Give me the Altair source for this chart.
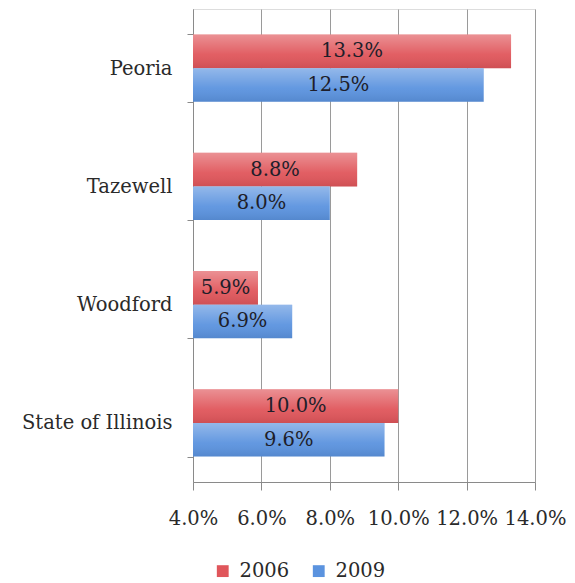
import altair as alt
import pandas as pd

categories = ["Peoria", "Tazewell", "Woodford", "State of Illinois"]
years = ["2006", "2009"]
v2006 = [13.3, 8.8, 5.9, 10.0]
v2009 = [12.5, 8.0, 6.9, 9.6]
x_ticks = [4, 6, 8, 10, 12, 14]
base_value = 4

rows = []
for c, a, b in zip(categories, v2006, v2009):
    rows.append({"cat": c, "year": "2006", "value": a, "base": base_value})
    rows.append({"cat": c, "year": "2009", "value": b, "base": base_value})
df = pd.DataFrame(rows)

FONT = "DejaVu Serif"

xscale = alt.Scale(domain=[4, 14], nice=False, zero=False)
yscale = alt.Scale(domain=categories, paddingInner=0.43, paddingOuter=0.215)
color_scale = alt.Scale(domain=years, range=["#e0565b", "#5b93df"])

base = alt.Chart(df).encode(
    y=alt.Y("cat:N", scale=yscale, sort=categories, title=None,
            axis=alt.Axis(labelFont=FONT, labelFontSize=19.5, labelColor="#2a2a2a",
                          labelPadding=15, tickSize=6, tickBand="extent",
                          domainColor="#8a8a8a", tickColor="#8a8a8a", labelLimit=200)),
    yOffset=alt.YOffset("year:N", sort=years),
)

bars = base.mark_bar(stroke=None).encode(
    x=alt.X("value:Q", scale=xscale, title=None,
            axis=alt.Axis(values=x_ticks, labelExpr="format(datum.value, '.1f') + '%'",
                          labelFont=FONT, labelFontSize=19.5, labelColor="#2a2a2a",
                          tickSize=8, labelPadding=19, grid=True, gridColor="#9a9a9a",
                          domainColor="#8a8a8a", tickColor="#8a8a8a", labelFlush=False)),
    x2="base:Q",
    color=alt.Color("year:N", scale=color_scale, title=None,
                    legend=alt.Legend(orient="none", legendX=20, legendY=552, direction="horizontal",
                                      symbolType="square", symbolSize=140, symbolStrokeWidth=0,
                                      labelFont=FONT, labelFontSize=19.5, labelColor="#2a2a2a",
                                      labelOffset=7, columnPadding=19, padding=0)),
)

shine = base.mark_bar(
    fill=alt.Gradient(
        gradient="linear", x1=0, y1=0, x2=0, y2=1,
        stops=[alt.GradientStop(color="rgba(255,255,255,0.35)", offset=0),
               alt.GradientStop(color="rgba(255,255,255,0.05)", offset=0.6),
               alt.GradientStop(color="rgba(0,0,0,0.08)", offset=1)],
    )
).encode(x=alt.X("value:Q", scale=xscale), x2="base:Q")

labels = base.transform_calculate(
    mid="(datum.value + datum.base) / 2",
    txt="format(datum.value, '.1f') + '%'",
).mark_text(font=FONT, fontSize=19.5, color="#1e1e2a", baseline="middle", align="center").encode(
    x=alt.X("mid:Q", scale=xscale), text="txt:N"
)

chart = alt.layer(bars, shine, labels).properties(
    width=342, height=473,
    autosize=alt.AutoSizeParams(type="none"),
    padding={"left": 185, "top": 1, "right": 32, "bottom": 102},
).configure_view(stroke=None).configure(background="white")

chart.save("out.html", embed_options={"renderer": "svg", "actions": False})
